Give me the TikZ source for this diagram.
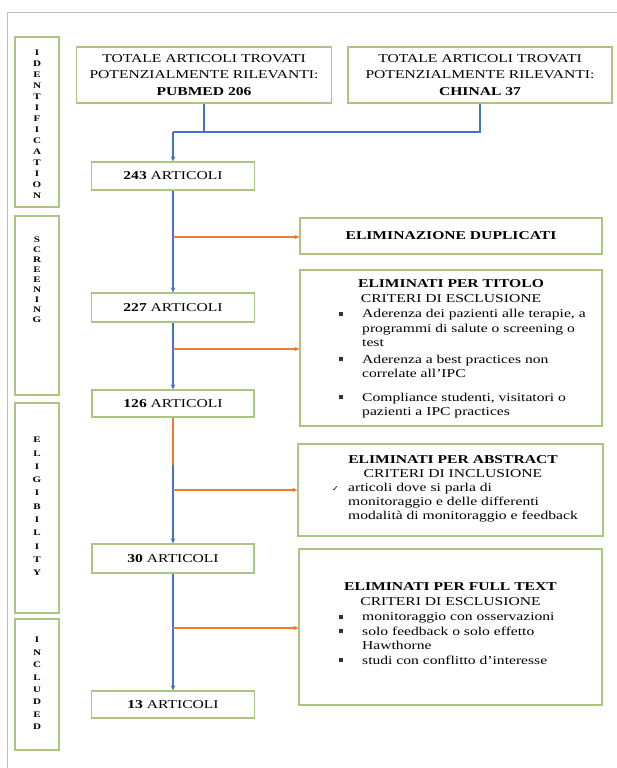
\documentclass[tikz,border=0pt]{standalone}
\usepackage{fontspec}
\setmainfont{Liberation Serif}[FakeStretch=1.3]
\newfontfamily\symf{DejaVu Sans}
\usetikzlibrary{arrows.meta}
\definecolor{gboxc}{RGB}{170,198,128}
\definecolor{lblue}{RGB}{68,114,196}
\definecolor{lorange}{RGB}{237,125,49}
\definecolor{framec}{RGB}{190,190,190}
\definecolor{bulc}{RGB}{50,50,50}
\newcommand{\bul}{\raisebox{1.6pt}{\textcolor{bulc}{\rule{4pt}{4pt}}}}
\newcommand{\chk}{{\symf\fontsize{8}{8}\selectfont ✓}}
\begin{document}
\begin{tikzpicture}[x=1pt,y=-1pt,
  gbox/.style={draw=gboxc, line width=1.2pt, fill=white, inner sep=0pt, font=\fontsize{12}{16.5}\selectfont, align=center},
  side/.style={inner sep=0pt, align=center, font=\bfseries\fontsize{8.5}{#1}\selectfont},
  ttl/.style={inner sep=0pt, align=center, font=\fontsize{12}{#1}\selectfont},
  lst/.style={inner sep=0pt, anchor=base west, font=\fontsize{12}{14.5}\selectfont},
  bline/.style={draw=lblue, line width=1.8pt},
  barrow/.style={bline, -{Stealth[length=5pt,width=4.5pt]}},
  oline/.style={draw=lorange, line width=1.5pt},
  oarrow/.style={oline, -{Stealth[length=5pt,width=4.5pt]}}]
\fill[white] (0,0) rectangle (617,768);
\useasboundingbox (0,0) rectangle (617,768);
\draw[framec, line width=0.8pt] (7,768) -- (7,12) -- (617,12);

% side boxes
\node[gbox, minimum width=44pt, minimum height=170pt] (sid) at (37,122) {};
\node[gbox, minimum width=44pt, minimum height=179pt] (ssc) at (37,305.5) {};
\node[gbox, minimum width=44pt, minimum height=210pt] (sel) at (37,508) {};
\node[gbox, minimum width=44pt, minimum height=131pt] (sin) at (37,684.5) {};
\node[side=11] (tid) at (37,124.5) {I\\D\\E\\N\\T\\I\\F\\I\\C\\A\\T\\I\\O\\N};
\node[side=10] (tsc) at (37,280) {S\\C\\R\\E\\E\\N\\I\\N\\G};
\node[side=13.3] (tel) at (37,506.5) {E\\L\\I\\G\\I\\B\\I\\L\\I\\T\\Y};
\node[side=12.4] (tin) at (37,683.5) {I\\N\\C\\L\\U\\D\\E\\D};

% main boxes
\node[gbox, minimum width=255pt, minimum height=56pt] (pub) at (204,75) {TOTALE ARTICOLI TROVATI\\POTENZIALMENTE RILEVANTI:\\\textbf{PUBMED 206}};
\node[gbox, minimum width=264pt, minimum height=56pt] (chin) at (480,75) {TOTALE ARTICOLI TROVATI\\POTENZIALMENTE RILEVANTI:\\\textbf{CHINAL 37}};
\node[gbox, minimum width=163pt, minimum height=28pt] (a243) at (173,176) {\textbf{243} ARTICOLI};
\node[gbox, minimum width=163pt, minimum height=29pt] (a227) at (173,307.5) {\textbf{227} ARTICOLI};
\node[gbox, minimum width=162pt, minimum height=27pt] (a126) at (173,403.5) {\textbf{126} ARTICOLI};
\node[gbox, minimum width=162pt, minimum height=29pt] (a30) at (173,558.5) {\textbf{30} ARTICOLI};
\node[gbox, minimum width=163pt, minimum height=27pt] (a13) at (173,704.5) {\textbf{13} ARTICOLI};
\node[gbox, minimum width=302pt, minimum height=36pt] (dup) at (451,236) {\textbf{ELIMINAZIONE DUPLICATI}};
\node[gbox, minimum width=302pt, minimum height=156pt] (tit) at (451,348) {};
\node[gbox, minimum width=305pt, minimum height=92pt] (abs) at (450.5,490) {};
\node[gbox, minimum width=303pt, minimum height=156pt] (ful) at (450.5,627) {};

% box contents
\node[ttl=15] (titT) at (451,291.5) {\textbf{ELIMINATI PER TITOLO}\\CRITERI DI ESCLUSIONE};
\node[lst] (titL) at (339,317.5) {\begin{tabular}[t]{@{}l@{}l@{}}
\makebox[23pt][l]{\bul} & Aderenza dei pazienti alle terapie, a\\
 & programmi di salute o screening o\\
 & test\\[2pt]
\bul & Aderenza a best practices non\\
 & correlate all'IPC\\[9pt]
\bul & Compliance studenti, visitatori o\\
 & pazienti a IPC practices
\end{tabular}};
\node[ttl=14] (absT) at (453,467) {\textbf{ELIMINATI PER ABSTRACT}\\CRITERI DI INCLUSIONE};
\node[lst, font=\fontsize{12}{14}\selectfont] (absL) at (332,491.5) {\begin{tabular}[t]{@{}l@{}l@{}}
\makebox[16pt][l]{\chk} & articoli dove si parla di\\
 & monitoraggio e delle differenti\\
 & modalità di monitoraggio e feedback
\end{tabular}};
\node[ttl=15] (fulT) at (450.5,594.5) {\textbf{ELIMINATI PER FULL TEXT}\\CRITERI DI ESCLUSIONE};
\node[lst] (fulL) at (339,620.5) {\begin{tabular}[t]{@{}l@{}l@{}}
\makebox[23pt][l]{\bul} & monitoraggio con osservazioni\\
\bul & solo feedback o solo effetto\\
 & Hawthorne\\
\bul & studi con conflitto d'interesse
\end{tabular}};

% connectors
\coordinate (j) at (173,132);
\draw[bline] (pub.south) -- (pub.south |- j);
\draw[bline] (chin.south) -- (chin.south |- j) -- (j);
\draw[barrow] (j) -- (a243.north);
\draw[barrow] (a243.south) -- (a227.north);
\coordinate (b1) at (173,237);
\draw[oarrow] (b1) -- (dup.west |- b1);
\draw[barrow] (a227.south) -- (a126.north);
\coordinate (b2) at (173,349);
\draw[oarrow] (b2) -- (tit.west |- b2);
\coordinate (c1) at (173,465);
\draw[oline] (a126.south) -- (c1);
\draw[barrow] (c1) -- (a30.north);
\coordinate (b3) at (173,490);
\draw[oarrow] (b3) -- (abs.west |- b3);
\draw[barrow] (a30.south) -- (a13.north);
\coordinate (b4) at (173,628);
\draw[oarrow] (b4) -- (ful.west |- b4);
\end{tikzpicture}
\end{document}
